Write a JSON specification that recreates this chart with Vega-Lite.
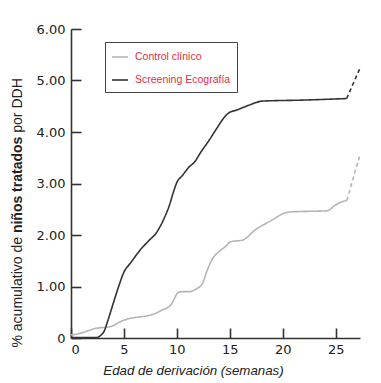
{
  "$schema": "https://vega.github.io/schema/vega-lite/v6.json",
  "width": 289,
  "height": 309,
  "autosize": {"type": "none"},
  "padding": {"left": 71, "top": 29, "right": 21, "bottom": 45},
  "background": "white",
  "config": {
    "view": {"stroke": null},
    "axis": {
      "grid": false,
      "domainColor": "#333333",
      "domainWidth": 1.6,
      "tickColor": "#333333",
      "tickWidth": 1.6,
      "tickSize": -10,
      "labelFont": "DejaVu Sans",
      "labelFontSize": 13,
      "labelColor": "#222222",
      "titleColor": "#222222",
      "titleFontWeight": "normal"
    }
  },
  "data": {
    "values": [
      {"serie": "Control clínico", "tramo": "solido", "semana": 0, "valor": 0.06},
      {"serie": "Control clínico", "tramo": "solido", "semana": 0.85, "valor": 0.09},
      {"serie": "Control clínico", "tramo": "solido", "semana": 1.6, "valor": 0.14},
      {"serie": "Control clínico", "tramo": "solido", "semana": 2.4, "valor": 0.19},
      {"serie": "Control clínico", "tramo": "solido", "semana": 3.35, "valor": 0.21},
      {"serie": "Control clínico", "tramo": "solido", "semana": 4.0, "valor": 0.24},
      {"serie": "Control clínico", "tramo": "solido", "semana": 4.5, "valor": 0.3},
      {"serie": "Control clínico", "tramo": "solido", "semana": 5.07, "valor": 0.35},
      {"serie": "Control clínico", "tramo": "solido", "semana": 5.8, "valor": 0.39},
      {"serie": "Control clínico", "tramo": "solido", "semana": 6.5, "valor": 0.41},
      {"serie": "Control clínico", "tramo": "solido", "semana": 7.4, "valor": 0.44},
      {"serie": "Control clínico", "tramo": "solido", "semana": 8.0, "valor": 0.48},
      {"serie": "Control clínico", "tramo": "solido", "semana": 8.67, "valor": 0.55},
      {"serie": "Control clínico", "tramo": "solido", "semana": 9.2, "valor": 0.6},
      {"serie": "Control clínico", "tramo": "solido", "semana": 9.5, "valor": 0.66},
      {"serie": "Control clínico", "tramo": "solido", "semana": 9.8, "valor": 0.78},
      {"serie": "Control clínico", "tramo": "solido", "semana": 10.1, "valor": 0.88},
      {"serie": "Control clínico", "tramo": "solido", "semana": 10.5, "valor": 0.9},
      {"serie": "Control clínico", "tramo": "solido", "semana": 11.2, "valor": 0.9},
      {"serie": "Control clínico", "tramo": "solido", "semana": 11.8, "valor": 0.95},
      {"serie": "Control clínico", "tramo": "solido", "semana": 12.4, "valor": 1.05},
      {"serie": "Control clínico", "tramo": "solido", "semana": 12.8, "valor": 1.28},
      {"serie": "Control clínico", "tramo": "solido", "semana": 13.4, "valor": 1.55},
      {"serie": "Control clínico", "tramo": "solido", "semana": 14.0, "valor": 1.68},
      {"serie": "Control clínico", "tramo": "solido", "semana": 14.6, "valor": 1.78},
      {"serie": "Control clínico", "tramo": "solido", "semana": 15.1, "valor": 1.87},
      {"serie": "Control clínico", "tramo": "solido", "semana": 16.2, "valor": 1.9},
      {"serie": "Control clínico", "tramo": "solido", "semana": 17.4, "valor": 2.1},
      {"serie": "Control clínico", "tramo": "solido", "semana": 19.0, "valor": 2.29},
      {"serie": "Control clínico", "tramo": "solido", "semana": 20.1, "valor": 2.42},
      {"serie": "Control clínico", "tramo": "solido", "semana": 20.9, "valor": 2.45},
      {"serie": "Control clínico", "tramo": "solido", "semana": 24.2, "valor": 2.47},
      {"serie": "Control clínico", "tramo": "solido", "semana": 24.9, "valor": 2.57},
      {"serie": "Control clínico", "tramo": "solido", "semana": 25.4, "valor": 2.63},
      {"serie": "Control clínico", "tramo": "solido", "semana": 26.05, "valor": 2.67},
      {"serie": "Control clínico", "tramo": "discontinuo", "semana": 26.05, "valor": 2.67},
      {"serie": "Control clínico", "tramo": "discontinuo", "semana": 27.25, "valor": 3.52},
      {"serie": "Screening Ecografía", "tramo": "solido", "semana": 0, "valor": 0.01},
      {"serie": "Screening Ecografía", "tramo": "solido", "semana": 1.0, "valor": 0.01},
      {"serie": "Screening Ecografía", "tramo": "solido", "semana": 2.4, "valor": 0.01},
      {"serie": "Screening Ecografía", "tramo": "solido", "semana": 2.8, "valor": 0.05},
      {"serie": "Screening Ecografía", "tramo": "solido", "semana": 3.1, "valor": 0.12},
      {"serie": "Screening Ecografía", "tramo": "solido", "semana": 3.5, "valor": 0.35},
      {"serie": "Screening Ecografía", "tramo": "solido", "semana": 4.0, "valor": 0.68},
      {"serie": "Screening Ecografía", "tramo": "solido", "semana": 4.5, "valor": 1.0},
      {"serie": "Screening Ecografía", "tramo": "solido", "semana": 5.0, "valor": 1.28},
      {"serie": "Screening Ecografía", "tramo": "solido", "semana": 5.6, "valor": 1.45},
      {"serie": "Screening Ecografía", "tramo": "solido", "semana": 6.5, "valor": 1.7},
      {"serie": "Screening Ecografía", "tramo": "solido", "semana": 7.3, "valor": 1.88},
      {"serie": "Screening Ecografía", "tramo": "solido", "semana": 8.05, "valor": 2.04},
      {"serie": "Screening Ecografía", "tramo": "solido", "semana": 8.7, "valor": 2.28},
      {"serie": "Screening Ecografía", "tramo": "solido", "semana": 9.3, "valor": 2.58},
      {"serie": "Screening Ecografía", "tramo": "solido", "semana": 9.7, "valor": 2.85},
      {"serie": "Screening Ecografía", "tramo": "solido", "semana": 10.0, "valor": 3.02},
      {"serie": "Screening Ecografía", "tramo": "solido", "semana": 10.5, "valor": 3.15},
      {"serie": "Screening Ecografía", "tramo": "solido", "semana": 11.2, "valor": 3.33},
      {"serie": "Screening Ecografía", "tramo": "solido", "semana": 11.6, "valor": 3.4},
      {"serie": "Screening Ecografía", "tramo": "solido", "semana": 12.3, "valor": 3.62},
      {"serie": "Screening Ecografía", "tramo": "solido", "semana": 13.05, "valor": 3.84},
      {"serie": "Screening Ecografía", "tramo": "solido", "semana": 13.8, "valor": 4.08},
      {"serie": "Screening Ecografía", "tramo": "solido", "semana": 14.46, "valor": 4.28},
      {"serie": "Screening Ecografía", "tramo": "solido", "semana": 14.9, "valor": 4.37},
      {"serie": "Screening Ecografía", "tramo": "solido", "semana": 15.7, "valor": 4.43},
      {"serie": "Screening Ecografía", "tramo": "solido", "semana": 16.8, "valor": 4.52},
      {"serie": "Screening Ecografía", "tramo": "solido", "semana": 18.06, "valor": 4.6},
      {"serie": "Screening Ecografía", "tramo": "solido", "semana": 22.0, "valor": 4.62},
      {"serie": "Screening Ecografía", "tramo": "solido", "semana": 26.04, "valor": 4.65},
      {"serie": "Screening Ecografía", "tramo": "discontinuo", "semana": 26.04, "valor": 4.65},
      {"serie": "Screening Ecografía", "tramo": "discontinuo", "semana": 27.3, "valor": 5.24}
    ]
  },
  "encoding": {
    "x": {
      "field": "semana",
      "type": "quantitative",
      "scale": {"domain": [0, 27.3], "nice": false, "zero": false},
      "axis": {
        "values": [0, 5, 10, 15, 20, 25],
        "format": "d",
        "labelPadding": 15,
        "title": "Edad de derivación (semanas)",
        "titleFont": "Liberation Sans",
        "titleFontSize": 13.3,
        "titleFontStyle": "italic",
        "titleX": 122,
        "titleY": 25
      }
    }
  },
  "layer": [
    {
      "mark": {"type": "line", "strokeWidth": 1.6, "interpolate": "monotone"},
      "encoding": {
        "y": {
          "field": "valor",
          "type": "quantitative",
          "scale": {"domain": [0, 6], "nice": false},
          "axis": {
            "orient": "left",
            "values": [0, 1, 2, 3, 4, 5, 6],
            "labelExpr": "datum.value == 0 ? '0' : format(datum.value, '.2f')",
            "labelPadding": 16,
            "title": "%  acumulativo de",
            "titleFont": "Liberation Sans",
            "titleFontSize": 14,
            "titleAlign": "left",
            "titleX": -47,
            "titleY": 318
          }
        },
        "color": {
          "field": "serie",
          "type": "nominal",
          "scale": {"domain": ["Control clínico", "Screening Ecografía"], "range": ["#b5b5b5", "#333333"]},
          "legend": {
            "orient": "none",
            "legendX": 34,
            "legendY": 13,
            "title": null,
            "strokeColor": "#444444",
            "fillColor": "white",
            "padding": 6,
            "symbolType": "stroke",
            "symbolSize": 256,
            "symbolStrokeWidth": 1.6,
            "labelFont": "Liberation Sans",
            "labelFontSize": 10.5,
            "labelColor": "#ee2a3c",
            "labelOffset": 6,
            "rowPadding": 8
          }
        },
        "strokeDash": {
          "field": "tramo",
          "type": "nominal",
          "scale": {"domain": ["solido", "discontinuo"], "range": [[1, 0], [4, 3]]},
          "legend": null
        }
      }
    },
    {
      "mark": {"type": "line", "opacity": 0},
      "encoding": {
        "y": {
          "field": "valor",
          "type": "quantitative",
          "axis": {
            "orient": "left",
            "labels": false,
            "ticks": false,
            "domain": false,
            "title": "niños tratados",
            "titleFont": "Liberation Sans",
            "titleFontSize": 14,
            "titleFontWeight": "bold",
            "titleAlign": "left",
            "titleX": -47,
            "titleY": 203.6
          }
        }
      }
    },
    {
      "mark": {"type": "line", "opacity": 0},
      "encoding": {
        "y": {
          "field": "valor",
          "type": "quantitative",
          "axis": {
            "orient": "left",
            "labels": false,
            "ticks": false,
            "domain": false,
            "title": "por DDH",
            "titleFont": "Liberation Sans",
            "titleFontSize": 14,
            "titleAlign": "left",
            "titleX": -47,
            "titleY": 103.2
          }
        }
      }
    }
  ],
  "resolve": {"axis": {"y": "independent"}}
}
